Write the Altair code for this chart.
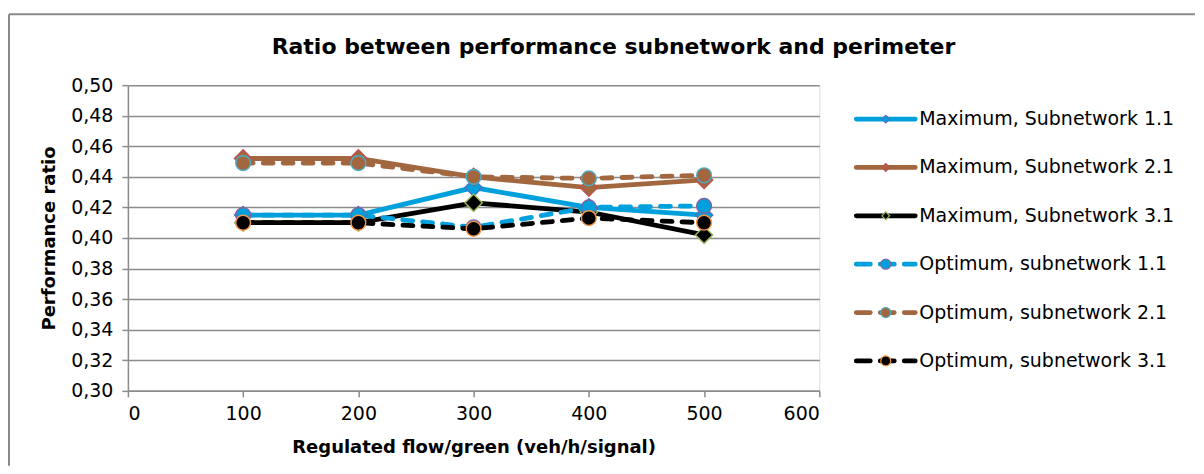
import altair as alt
import pandas as pd

# ---- data ----
chart_title = "Ratio between performance subnetwork and perimeter"
flow = [100, 200, 300, 400, 500]
series_names = [
    "Maximum, Subnetwork 1.1",
    "Maximum, Subnetwork 2.1",
    "Maximum, Subnetwork 3.1",
    "Optimum, subnetwork 1.1",
    "Optimum, subnetwork 2.1",
    "Optimum, subnetwork 3.1",
]
max_11 = [0.415, 0.415, 0.433, 0.420, 0.415]
max_21 = [0.452, 0.452, 0.440, 0.433, 0.438]
max_31 = [0.410, 0.410, 0.423, 0.417, 0.402]
opt_11 = [0.415, 0.415, 0.407, 0.420, 0.421]
opt_21 = [0.449, 0.449, 0.440, 0.439, 0.441]
opt_31 = [0.410, 0.410, 0.406, 0.413, 0.410]
values = [max_11, max_21, max_31, opt_11, opt_21, opt_31]

x_ticks = [0, 100, 200, 300, 400, 500, 600]
y_ticks = [0.30, 0.32, 0.34, 0.36, 0.38, 0.40, 0.42, 0.44, 0.46, 0.48, 0.50]

# ---- styles ----
BLUE = "#00a0dc"
BROWN = "#a2673f"
BLACK = "#000000"
styles = {
    "Maximum, Subnetwork 1.1": dict(color=BLUE, dash=None, shape="diamond", fill=BLUE, edge="#4f6fbd"),
    "Maximum, Subnetwork 2.1": dict(color=BROWN, dash=None, shape="diamond", fill=BROWN, edge="#c0504d"),
    "Maximum, Subnetwork 3.1": dict(color=BLACK, dash=None, shape="diamond", fill=BLACK, edge="#9bbb59"),
    "Optimum, subnetwork 1.1": dict(color=BLUE, dash=[10, 10], shape="circle", fill=BLUE, edge="#8064a2"),
    "Optimum, subnetwork 2.1": dict(color=BROWN, dash=[10, 10], shape="circle", fill=BROWN, edge="#4bacc6"),
    "Optimum, subnetwork 3.1": dict(color=BLACK, dash=[10, 10], shape="circle", fill=BLACK, edge="#f79646"),
}

FONT = "DejaVu Sans"
GRID = "#8c8c8c"
W, H = 692, 306

rows = []
for name, vals in zip(series_names, values):
    for xv, yv in zip(flow, vals):
        rows.append({"series": name, "flow": xv, "ratio": yv})
df = pd.DataFrame(rows)

xenc = alt.X("flow:Q", scale=alt.Scale(domain=[0, 600], nice=False),
             axis=alt.Axis(values=x_ticks, grid=False, title="Regulated flow/green (veh/h/signal)",
                           domainColor=GRID, domainWidth=1.5, tickColor=GRID, tickWidth=1.5, tickSize=6,
                           labelFont=FONT, labelFontSize=19, labelColor="#000", labelPadding=8,
                           titleFont=FONT, titleFontSize=18, titleFontWeight="bold", titleColor="#000",
                           titlePadding=15))
yenc = alt.Y("ratio:Q", scale=alt.Scale(domain=[0.30, 0.50], nice=False, zero=False),
             axis=alt.Axis(values=y_ticks, grid=True, gridColor=GRID, gridWidth=1.5,
                           title="Performance ratio",
                           labelExpr="replace(format(datum.value, '.2f'), '.', ',')",
                           domainColor=GRID, domainWidth=1.5, tickColor=GRID, tickWidth=1.5, tickSize=6,
                           labelFont=FONT, labelFontSize=19, labelColor="#000", labelPadding=9,
                           titleFont=FONT, titleFontSize=18, titleFontWeight="bold", titleColor="#000",
                           titlePadding=12))

plot_layers = []
for name in series_names:
    s = styles[name]
    line_kw = dict(color=s["color"], strokeWidth=4.8)
    if s["dash"]:
        line_kw.update(strokeDash=s["dash"], strokeCap="round")
    base = alt.Chart(df).transform_filter(alt.datum.series == name)
    line = base.mark_line(**line_kw).encode(x=xenc, y=yenc)
    size = 300 if s["shape"] == "diamond" else 220
    pts = base.mark_point(shape=s["shape"], filled=True, fill=s["fill"], stroke=s["edge"],
                          strokeWidth=1.4, size=size, opacity=1).encode(x=xenc, y=yenc)
    plot_layers += [line, pts]
plot = alt.layer(*plot_layers)

# ---- legend built from the series list, with its own scales beside the plot ----
leg_rows = [{"series": n, "x0": 0, "x1": 59, "xm": 29.5, "xt": 63} for n in series_names]
leg_df = pd.DataFrame(leg_rows)
lx = alt.Scale(domain=[0, 300], range=[729, 1029], nice=False)
ly = alt.Y("series:N", sort=series_names,
           scale=alt.Scale(type="point", range=[34, 276], padding=0), axis=None)
leg_layers = []
for name in series_names:
    s = styles[name]
    base = alt.Chart(leg_df).transform_filter(alt.datum.series == name)
    rule_kw = dict(color=s["color"], strokeWidth=4.8, strokeCap="round")
    if s["dash"]:
        rule_kw.update(strokeDash=[14, 10])
    leg_layers.append(base.mark_rule(**rule_kw).encode(
        x=alt.X("x0:Q", scale=lx, axis=None), x2="x1:Q", y=ly))
    size = 60 if s["shape"] == "diamond" else 100
    leg_layers.append(base.mark_point(shape=s["shape"], filled=True, fill=s["fill"], stroke=s["edge"],
                                      strokeWidth=1.2, size=size, opacity=1).encode(
        x=alt.X("xm:Q", scale=lx, axis=None), y=ly))
    leg_layers.append(base.mark_text(align="left", baseline="middle", font=FONT, fontSize=19,
                                     color="#000").encode(
        x=alt.X("xt:Q", scale=lx, axis=None), y=ly, text="series:N"))
legend = alt.layer(*leg_layers)

# ---- chart frame and title ----
one = alt.Data(values=[{"t": chart_title}])
border_top = alt.Chart(one).mark_rule(stroke="#8a8a8a", strokeWidth=2).encode(
    x=alt.value(-119), x2=alt.value(1068), y=alt.value(-71))
border_left = alt.Chart(one).mark_rule(stroke="#8a8a8a", strokeWidth=2).encode(
    x=alt.value(-119), y=alt.value(-71), y2=alt.value(381))
title_mark = alt.Chart(one).mark_text(
    font=FONT, fontSize=22, fontWeight="bold", color="#000", align="center", baseline="middle"
).encode(x=alt.value(486), y=alt.value(-38), text="t:N")
frame = alt.layer(border_top, border_left, title_mark)

chart = alt.layer(frame, plot, legend).resolve_scale(
    x="independent", y="independent"
).properties(
    width=W, height=H,
    padding={"left": 0, "top": 5, "right": 0, "bottom": 0},
).configure_view(stroke=None, strokeWidth=0).configure(background="white")

chart.save("out.html", embed_options={"renderer": "svg", "actions": False})
